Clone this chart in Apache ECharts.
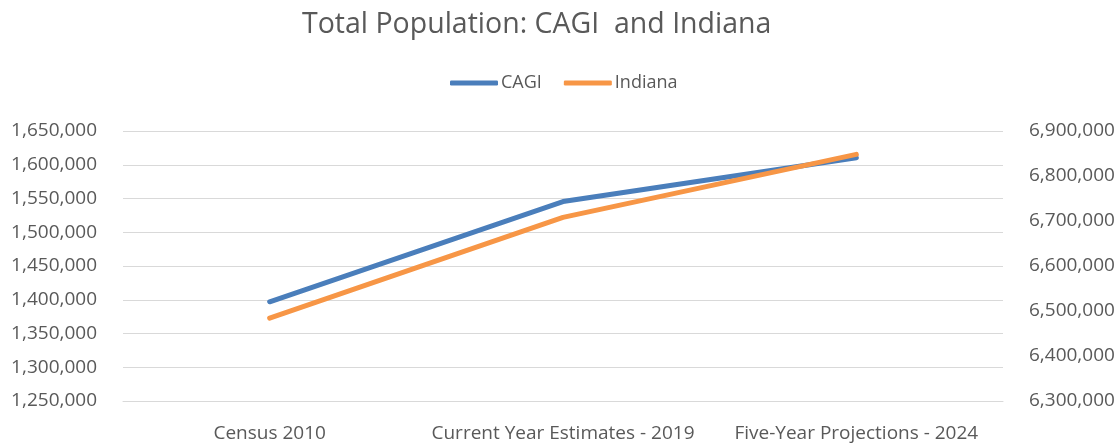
<!DOCTYPE html>
<html>
<head>
<meta charset="utf-8">
<script src="https://cdn.jsdelivr.net/npm/echarts@6/dist/echarts.min.js"></script>
<style>
  html, body { margin: 0; padding: 0; background: #fff; }
  #chart { width: 1120px; height: 445px; }
</style>
</head>
<body>
<div id="chart"></div>
<script>
// categories on the x axis
const categories = ['Census 2010', 'Current Year Estimates - 2019', 'Five-Year Projections - 2024']
// CAGI, left axis
const cagi = [1397000, 1545500, 1610500]
// Indiana, right axis
const indiana = [6484000, 6708000, 6848000]

const fmt = v => Number(v).toLocaleString('en-US')
const font = 'Open Sans'
const grey = '#595959'

const chart = echarts.init(document.getElementById('chart'))
chart.setOption({
  animation: false,
  title: {
    text: 'Total Population: CAGI  and Indiana',
    left: 297,
    top: 5,
    textStyle: {
      color: grey,
      fontFamily: font,
      fontWeight: 'normal',
      fontSize: 28.5
    }
  },
  legend: {
    data: ['CAGI', 'Indiana'],
    left: 445,
    top: 69,
    icon: 'roundRect',
    itemWidth: 48,
    itemHeight: 5,
    itemGap: 22,
    textStyle: { color: grey, fontFamily: font, fontSize: 18, padding: [0, 0, 0, -2] }
  },
  grid: {
    left: 123,
    right: 117,
    top: 131,
    bottom: 44
  },
  xAxis: {
    type: 'category',
    data: categories,
    boundaryGap: true,
    axisTick: { show: false },
    axisLine: { show: true, lineStyle: { color: '#d9d9d9', width: 1 } },
    axisLabel: { color: grey, fontFamily: font, fontSize: 19, margin: 23, interval: 0 }
  },
  yAxis: [
    {
      type: 'value',
      min: 1250000,
      max: 1650000,
      interval: 50000,
      axisLine: { show: false },
      axisTick: { show: false },
      splitLine: { lineStyle: { color: '#d9d9d9', width: 1 } },
      axisLabel: { color: grey, fontFamily: font, fontSize: 19, margin: 26, formatter: fmt }
    },
    {
      type: 'value',
      min: 6300000,
      max: 6900000,
      interval: 100000,
      axisLine: { show: false },
      axisTick: { show: false },
      splitLine: { show: false },
      axisLabel: { color: grey, fontFamily: font, fontSize: 19, margin: 26, formatter: fmt }
    }
  ],
  series: [
    {
      name: 'CAGI',
      type: 'line',
      yAxisIndex: 0,
      data: cagi,
      showSymbol: false,
      symbol: 'none',
      itemStyle: { color: '#4A7EBB' },
      lineStyle: { color: '#4A7EBB', width: 5, cap: 'round', join: 'round' }
    },
    {
      name: 'Indiana',
      type: 'line',
      yAxisIndex: 1,
      data: indiana,
      showSymbol: false,
      symbol: 'none',
      itemStyle: { color: '#F79646' },
      lineStyle: { color: '#F79646', width: 5, cap: 'round', join: 'round' }
    }
  ]
})
</script>
</body>
</html>
